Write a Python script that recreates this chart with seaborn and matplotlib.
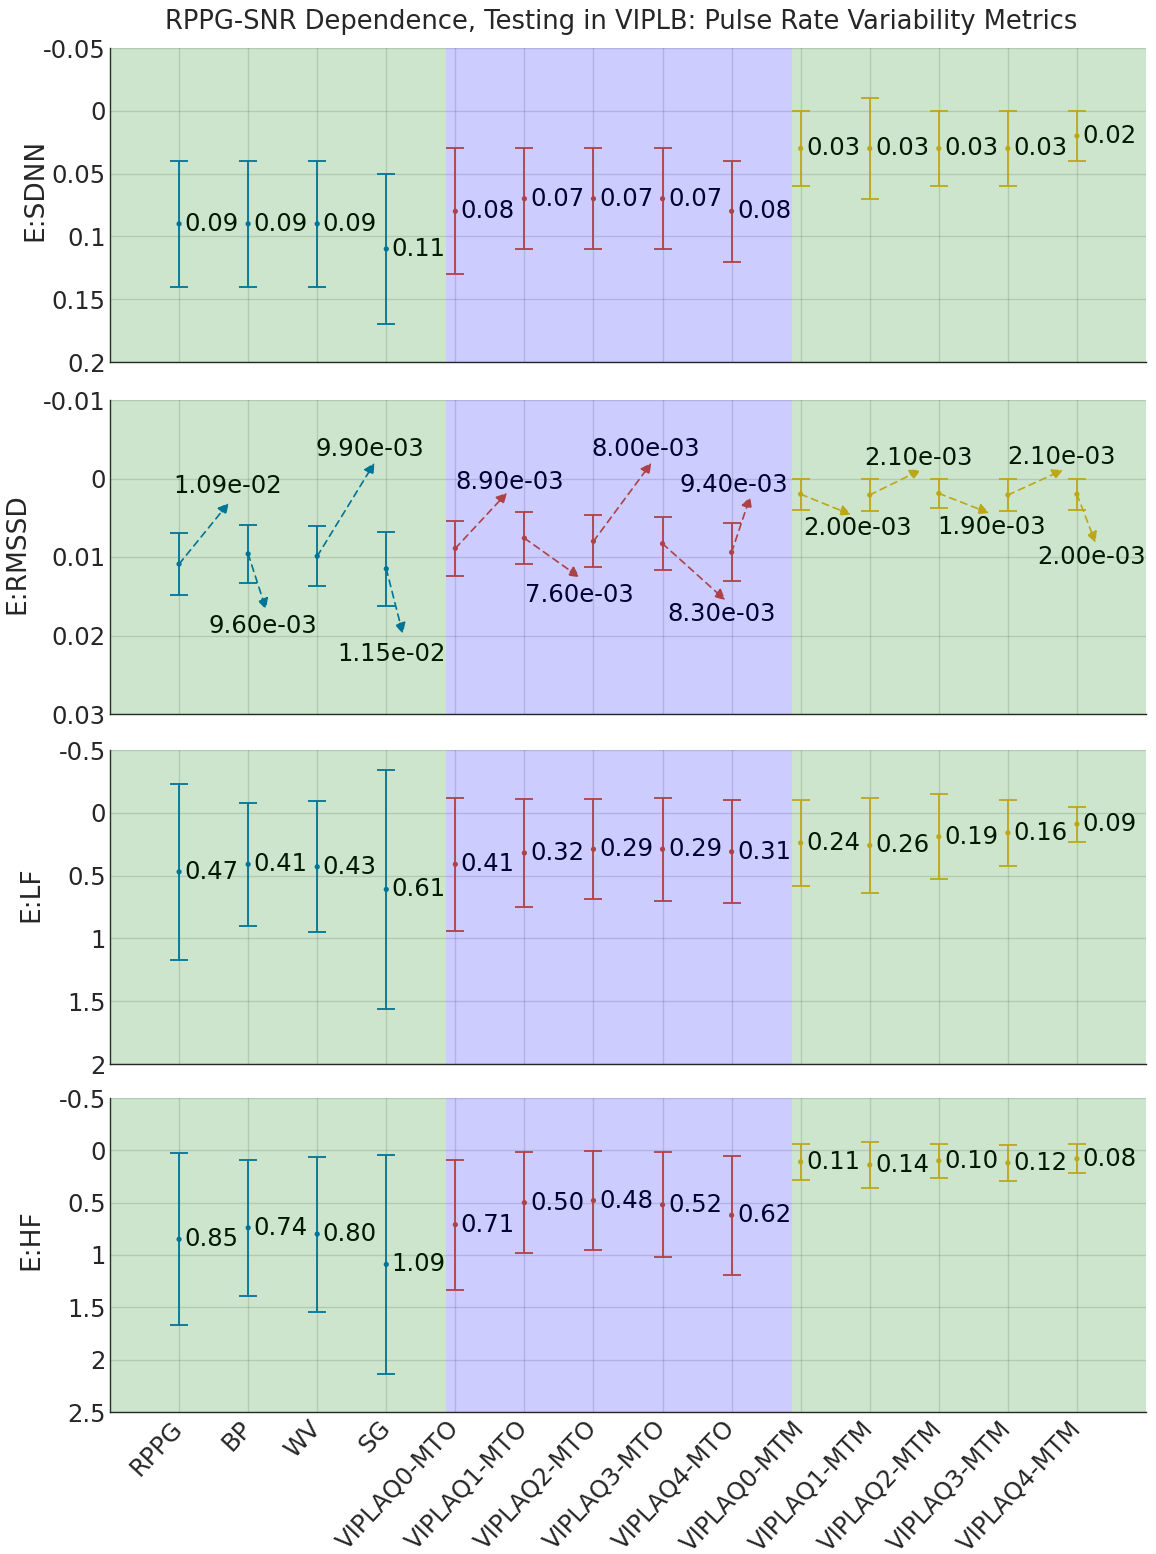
"""
RPPG-SNR dependence, testing in VIPLB: pulse rate variability metrics.
Four stacked error-bar panels (SDNN, RMSSD, LF, HF), y axes inverted.
"""

import numpy as np
import matplotlib
matplotlib.use('Agg')
import matplotlib.pyplot as plt
import matplotlib.ticker as mticker
import seaborn as sns

# ─────────────────────────────────────────────────
# DATA
# ─────────────────────────────────────────────────

categories = ['RPPG', 'BP', 'WV', 'SG',
              'VIPLAQ0-MTO', 'VIPLAQ1-MTO', 'VIPLAQ2-MTO', 'VIPLAQ3-MTO', 'VIPLAQ4-MTO',
              'VIPLAQ0-MTM', 'VIPLAQ1-MTM', 'VIPLAQ2-MTM', 'VIPLAQ3-MTM', 'VIPLAQ4-MTM']
groups = ['base'] * 4 + ['mto'] * 5 + ['mtm'] * 5

sdnn_mean = [0.09, 0.09, 0.09, 0.11, 0.08, 0.07, 0.07, 0.07, 0.08, 0.03, 0.03, 0.03, 0.03, 0.02]
sdnn_std = [0.05, 0.05, 0.05, 0.06, 0.05, 0.04, 0.04, 0.04, 0.04, 0.03, 0.04, 0.03, 0.03, 0.02]

rmssd_mean = [0.0109, 0.0096, 0.0099, 0.0115, 0.0089, 0.0076, 0.0080, 0.0083, 0.0094,
              0.0020, 0.0021, 0.0019, 0.0021, 0.0020]
rmssd_std = [0.0039, 0.0037, 0.0038, 0.0047, 0.0035, 0.0033, 0.0033, 0.0034, 0.0037,
             0.0020, 0.0021, 0.0018, 0.0020, 0.0020]

lf_mean = [0.47, 0.41, 0.43, 0.61, 0.41, 0.32, 0.29, 0.29, 0.31, 0.24, 0.26, 0.19, 0.16, 0.09]
lf_std = [0.70, 0.49, 0.52, 0.95, 0.53, 0.43, 0.40, 0.41, 0.41, 0.34, 0.38, 0.34, 0.26, 0.14]

hf_mean = [0.85, 0.74, 0.80, 1.09, 0.71, 0.50, 0.48, 0.52, 0.62, 0.11, 0.14, 0.10, 0.12, 0.08]
hf_std = [0.82, 0.65, 0.74, 1.05, 0.62, 0.48, 0.47, 0.50, 0.57, 0.17, 0.22, 0.16, 0.17, 0.14]

# RMSSD labels are placed with arrows: arrow tip (x offset, y) and text centre (x offset, y)
rmssd_tip_dx = [0.72, 0.26, 0.83, 0.24, 0.75, 0.80, 0.84, 0.91, 0.27, 0.73, 0.74, 0.73, 0.80, 0.27]
rmssd_tip_y = [0.0031, 0.0167, -0.0020, 0.0198, 0.0018, 0.0126, -0.0020, 0.0155, 0.0023,
               0.0046, -0.0011, 0.0044, -0.0011, 0.0082]
rmssd_txt_dx = [0.71, 0.22, 0.76, 0.07, 0.79, 0.80, 0.76, 0.85, 0.03, 0.82, 0.71, 0.76, 0.77, 0.21]
rmssd_txt_y = [0.0010, 0.0188, -0.0038, 0.0224, 0.0005, 0.0148, -0.0037, 0.0172, 0.0008,
               0.0063, -0.0026, 0.0062, -0.0028, 0.0100]

TITLE = "RPPG-SNR Dependence, Testing in VIPLB: Pulse Rate Variability Metrics"

# ─────────────────────────────────────────────────
# STYLE
# ─────────────────────────────────────────────────

sns.set_theme(style='white')
plt.rcParams['font.family'] = ['DejaVu Sans']

GROUP_COLOR = {'base': '#0072BD', 'mto': '#D95319', 'mtm': '#EDB120'}
AX_COLOR = '#262626'
FS = 17.5

W, H = 1156, 1554
fig = plt.figure(figsize=(W / 100, H / 100), dpi=100)

panels = [
    ('E:SDNN', sdnn_mean, sdnn_std, (-0.05, 0.2), 0.05, 362, (48, 0.548)),
    ('E:RMSSD', rmssd_mean, rmssd_std, (-0.01, 0.03), 0.01, 714, (30, 0.51)),
    ('E:LF', lf_mean, lf_std, (-0.5, 2.0), 0.5, 1064, (44, 0.54)),
    ('E:HF', hf_mean, hf_std, (-0.5, 2.5), 0.5, 1412, (44, 0.548)),
]

x = np.arange(1, len(categories) + 1)
colors = [GROUP_COLOR[g] for g in groups]

for k, (name, mean, std, ylim, step, bottom_px, lab) in enumerate(panels):
    ax = fig.add_axes([110 / W, 1 - bottom_px / H, 1036 / W, 314 / H])
    mean = np.array(mean)
    std = np.array(std)

    # error bars per group
    for g, c in GROUP_COLOR.items():
        idx = [i for i, gg in enumerate(groups) if gg == g]
        ax.errorbar(x[idx], mean[idx], yerr=std[idx], fmt='none', ecolor=c,
                    elinewidth=1.3, capsize=6.5, capthick=1.3, zorder=3)
    sns.scatterplot(x=x, y=mean, hue=groups, palette=GROUP_COLOR, s=14,
                    edgecolor='none', legend=False, ax=ax, zorder=4)

    # labels
    if name == 'E:RMSSD':
        for i in range(len(x)):
            tip = (x[i] + rmssd_tip_dx[i], rmssd_tip_y[i])
            ax.annotate('', xy=tip, xytext=(x[i], mean[i]),
                        arrowprops=dict(arrowstyle='-|>', linestyle=(0, (4, 3)), color=colors[i],
                                        lw=1.2, mutation_scale=16, shrinkA=0, shrinkB=0),
                        zorder=5)
            ax.text(x[i] + rmssd_txt_dx[i], rmssd_txt_y[i], f"{mean[i]:.2e}",
                    ha='center', va='center', fontsize=FS, color='black', zorder=5)
    else:
        for i in range(len(x)):
            ax.text(x[i] + 0.08, mean[i], f"{mean[i]:.2f}", ha='left', va='center',
                    fontsize=FS, color='black', zorder=5)

    # background bands drawn on top (tinting everything like the original)
    ax.axvspan(0, 4.86, color=(0, 0.5, 0), alpha=0.2, lw=0, zorder=10)
    ax.axvspan(4.86, 9.87, color=(0, 0, 1), alpha=0.2, lw=0, zorder=10)
    ax.axvspan(9.87, 15, color=(0, 0.5, 0), alpha=0.2, lw=0, zorder=10)

    ax.set_xlim(0, 15)
    ax.set_ylim(ylim[1], ylim[0])
    ax.yaxis.set_major_locator(mticker.MultipleLocator(step))
    ax.yaxis.set_major_formatter(mticker.FuncFormatter(lambda v, _: f"{round(v, 6):g}"))
    ax.set_xticks(x)
    if k == len(panels) - 1:
        ax.set_xticklabels(categories, rotation=47, ha='right', rotation_mode='anchor',
                           va='center', fontsize=16, color=AX_COLOR)
    else:
        ax.set_xticklabels([])

    ax.grid(True, color=AX_COLOR, alpha=0.15, lw=1)
    sns.despine(ax=ax)
    for sp in ('left', 'bottom'):
        ax.spines[sp].set_color(AX_COLOR)
        ax.spines[sp].set_linewidth(1)
    ax.tick_params(direction='in', length=9, width=1, colors=AX_COLOR, labelsize=FS)
    ax.tick_params(axis='y', pad=3)
    ax.tick_params(axis='x', pad=9)

    ax.set_ylabel(name, fontsize=19, color=AX_COLOR)
    ax.yaxis.set_label_coords((lab[0] - 110) / 1036, lab[1])

fig.text(621 / W, 1 - 22 / H, TITLE, ha='center', va='center', fontsize=18.5, color=AX_COLOR)

plt.savefig('out.png', dpi=100)
plt.close()
